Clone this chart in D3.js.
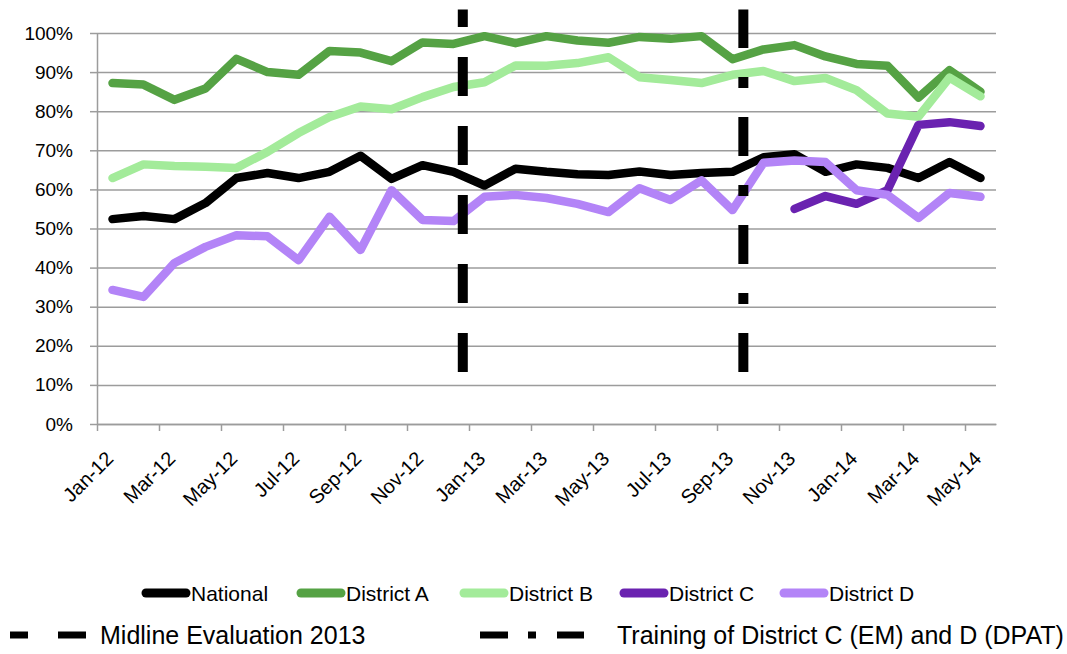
<!DOCTYPE html>
<html>
<head>
<meta charset="utf-8">
<script src="https://cdn.jsdelivr.net/npm/d3@7"></script>
<style>
  body { margin: 0; background: #fff; }
  text { font-family: "Liberation Sans", Arial, sans-serif; fill: #000; }
</style>
</head>
<body>
<svg width="1067" height="654"></svg>
<script>
// months on the category axis
const months = ["Jan-12","Feb-12","Mar-12","Apr-12","May-12","Jun-12","Jul-12","Aug-12","Sep-12","Oct-12","Nov-12","Dec-12",
                "Jan-13","Feb-13","Mar-13","Apr-13","May-13","Jun-13","Jul-13","Aug-13","Sep-13","Oct-13","Nov-13","Dec-13",
                "Jan-14","Feb-14","Mar-14","Apr-14","May-14"];

// values in percent
const national  = [52.4,53.2,52.4,56.5,62.9,64.2,62.9,64.5,68.6,62.7,66.2,64.5,61.0,65.3,64.5,63.9,63.7,64.6,63.7,64.2,64.5,68.2,69.0,64.5,66.4,65.5,62.9,67.0,62.9];
const districtA = [87.2,86.8,82.9,85.8,93.4,90.0,89.3,95.4,95.0,92.8,97.6,97.2,99.2,97.4,99.2,98.1,97.5,99.0,98.5,99.2,93.3,95.8,96.9,94.0,92.1,91.6,83.5,90.5,85.0];
const districtB = [62.9,66.4,66.0,65.8,65.5,69.6,74.4,78.5,81.2,80.5,83.6,86.2,87.4,91.7,91.6,92.3,93.8,88.7,88.0,87.2,89.3,90.3,87.7,88.5,85.4,79.4,78.6,88.6,83.8];
const districtC = [null,null,null,null,null,null,null,null,null,null,null,null,null,null,null,null,null,null,null,null,null,null,
                   55.0,58.3,56.3,59.8,76.5,77.2,76.2];
const districtD = [34.3,32.5,41.2,45.3,48.3,48.0,41.9,53.0,44.5,59.8,52.2,51.9,58.1,58.6,57.8,56.3,54.2,60.3,57.3,62.3,54.7,66.8,67.4,67.0,59.8,58.6,52.7,59.1,58.1];

const seriesNames = ["National","District A","District B","District C","District D"];
const seriesValues = [national, districtA, districtB, districtC, districtD];
const seriesColors = ["#000000","#55a244","#a3eb9a","#6a22b0","#b384f7"];

const yTicks = [0,10,20,30,40,50,60,70,80,90,100];

// event lines: position on the month axis (fractional index) and vertical extent (%)
const eventLabels = ["Midline Evaluation 2013","Training of District C (EM) and D (DPAT)"];
const eventAt = [11.8, 20.85];
const eventSpan = [13.3, 106];

const svg = d3.select("svg");
const plotL = 97, plotR = 996, plotT = 33, plotB = 424;

const x = d3.scaleLinear().domain([0, months.length]).range([plotL, plotR]);
const y = d3.scaleLinear().domain([0, 100]).range([plotB, plotT]);

// y axis with gridlines
const yAxis = svg.append("g")
    .attr("transform", `translate(${plotL},0)`)
    .call(d3.axisLeft(y).tickValues(yTicks).tickFormat(d => d + "%")
        .tickSizeInner(-(plotR - plotL)).tickSizeOuter(0).tickPadding(24));
yAxis.select(".domain").attr("stroke", "#9c9c9c").attr("stroke-width", 1.5);
yAxis.selectAll(".tick line").attr("stroke", "#9c9c9c").attr("stroke-width", 1.5);
yAxis.selectAll(".tick").append("line")
    .attr("x1", -7).attr("x2", 0)
    .attr("stroke", "#9c9c9c").attr("stroke-width", 1.5);
yAxis.selectAll(".tick text").attr("font-size", 19)
    .style("font-family", "'Liberation Sans', Arial, sans-serif").attr("fill", "#000");

// x axis: tick marks every two months, labels at month centres
const tickIdx = d3.range(0, months.length, 2);
const xAxis = svg.append("g")
    .attr("transform", `translate(0,${plotB})`)
    .call(d3.axisBottom(x).tickValues(tickIdx).tickFormat("").tickSizeInner(7).tickSizeOuter(0));
xAxis.select(".domain").attr("stroke", "#9c9c9c").attr("stroke-width", 1.5);
xAxis.selectAll(".tick line").attr("stroke", "#9c9c9c").attr("stroke-width", 1.5);

svg.append("g").selectAll("text")
    .data(tickIdx)
    .join("text")
    .attr("transform", i => `translate(${x(i + 0.5) + 2},${plotB + 36}) rotate(-45)`)
    .attr("text-anchor", "end")
    .attr("font-size", 20)
    .text(i => months[i]);

// series lines
const line = d3.line()
    .defined(d => d != null)
    .x((d, i) => x(i + 0.5))
    .y(d => y(d));

svg.append("g").selectAll("path")
    .data(seriesValues)
    .join("path")
    .attr("d", d => line(d))
    .attr("fill", "none")
    .attr("stroke", (d, i) => seriesColors[i])
    .attr("stroke-width", 8.5)
    .attr("stroke-linejoin", "round")
    .attr("stroke-linecap", "round");

// event lines, drawn from the bottom up
const eventDash = ["39 30", "39 29 11 29"];
svg.append("g").selectAll("line")
    .data(eventAt)
    .join("line")
    .attr("x1", d => x(d)).attr("x2", d => x(d))
    .attr("y1", y(eventSpan[0])).attr("y2", y(eventSpan[1]))
    .attr("stroke", "#000")
    .attr("stroke-width", 10)
    .attr("stroke-dasharray", (d, i) => eventDash[i]);

// legend row 1: series
const legX = [142, 297, 460, 620, 780];
const leg = svg.append("g").selectAll("g")
    .data(seriesNames)
    .join("g")
    .attr("transform", (d, i) => `translate(${legX[i]},593)`);
leg.append("line")
    .attr("x1", 4).attr("x2", 44)
    .attr("stroke", (d, i) => seriesColors[i])
    .attr("stroke-width", 9)
    .attr("stroke-linecap", "round");
leg.append("text")
    .attr("x", 49).attr("dy", "0.36em")
    .attr("font-size", 21)
    .text(d => d);

// legend row 2: event lines
const evX = [10, 480];
const evTextX = [100, 617];
const evSym = [[[0, 18], [48, 76]], [[0, 28], [48, 56], [77, 104]]];
const ev = svg.append("g").selectAll("g")
    .data(eventLabels)
    .join("g")
    .attr("transform", (d, i) => `translate(${evX[i]},635)`);
ev.selectAll("line")
    .data((d, i) => evSym[i])
    .join("line")
    .attr("x1", s => s[0]).attr("x2", s => s[1])
    .attr("stroke", "#000").attr("stroke-width", 7);
ev.append("text")
    .attr("x", (d, i) => evTextX[i] - evX[i])
    .attr("dy", "0.36em")
    .attr("font-size", 25)
    .text(d => d);
</script>
</body>
</html>
